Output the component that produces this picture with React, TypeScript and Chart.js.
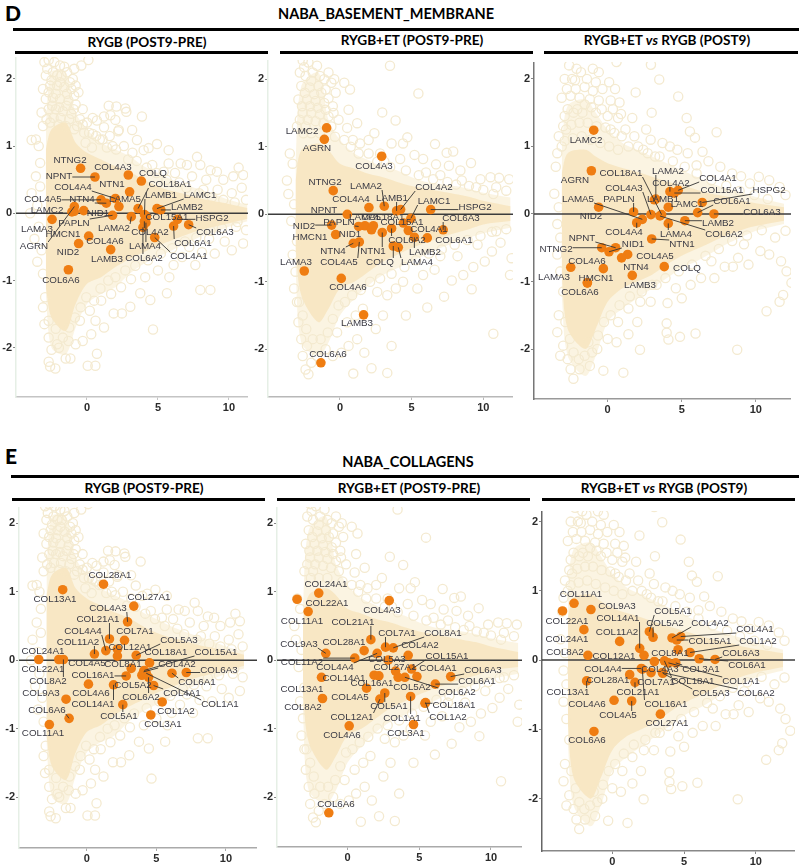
import React, { useEffect, useRef } from "react";
import { Chart, registerables } from "chart.js";

Chart.register(...registerables);

const xTicks = [0, 5, 10];
const yTicks = [-2, -1, 0, 1, 2];

// ---- background proteins (mean abundance, log fold change)
const cloud1Rings = [[-3,2.25],[-2.7,2.28],[-2.3,2.25],[-1.9,2.2],[.1,2.28],[-.4,2.2],[-.9,2.15],[-2.9,2.05],[-2.4,2.1],[-1.8,2.05],[-1.4,2.1],[-1,2],[-3.1,1.85],[-2.6,1.9],[-2.1,1.9],[-1.6,1.88],[-1.1,1.85],[-.6,1.8],[-2.9,1.7],[-2.4,1.72],[-1.9,1.7],[-1.3,1.68],[-.8,1.62],[-.3,1.55],[-3.2,1.5],[-2.7,1.55],[-2.2,1.55],[-1.7,1.52],[-1.1,1.48],[-.5,1.4],[0,1.35],[.4,1.42],[.7,1.38],[1.2,1.28],[-3.1,1.3],[-.2,1.2],[.4,1.18],[.9,1.1],[1.6,1.15],[2.2,1.22],[-3.6,1.1],[-3.9,1.09],[-3.4,1],[1.53,1.6],[2.07,1.59],[2.7,1.56],[2.77,1.51],[3.87,1.44],[1.65,1.46],[2,1.39],[1.2,1.44],[2.24,1.24],[3.18,1.24],[3.52,1.09],[4.93,1.03],[3.99,.94],[4.34,.97],[5.75,.94],[7.75,.84],[5.75,.74],[6.6,.74],[7.04,.72],[7.98,.72],[10.68,.68],[8.7,.64],[9.15,.62],[11,.57],[10.3,.55],[9.6,.5],[8.4,.5],[7.4,.55],[6.2,.6],[5.4,.62],[4.6,.72],[3.2,.9],[2.6,1],[1.8,1],[10.9,.38],[10.2,.3],[9.2,.35],[8.2,.35],[11.2,.2],[-3.3,.75],[-3.6,.55],[-3.3,.4],[-3.9,.3],[-3.5,.12],[-4,0],[-3.4,-.2],[-3.7,-.38],[-3.2,-.55],[-3.5,-.72],[-3.1,-.9],[7.98,-1.14],[8.69,-1.14],[4.65,-1.73],[.7,-2.09],[.05,-2.27],[.59,-2.27],[-1.17,-2.16],[-1.5,-2.16],[-2.7,-2.21],[-2.6,-2.28],[-2.23,-2.31],[-2.5,-2.03],[-1.98,-2],[3.05,-1.39],[2.46,-1.49],[1.88,-1.49],[5.63,-1.19],[6.1,-.77],[7.63,-.77],[4.46,-1.29],[3.75,-1.19],[1.2,-1.7],[.6,-1.6],[-.3,-1.9],[-.8,-1.95],[-1.3,-1.9],[-2.1,-1.95],[-2.7,-1.85],[-3,-1.65],[-3.1,-1.4],[-.5,-1.6],[.2,-1.45],[1,-1.3],[1.7,-1.2],[2.4,-1.1],[3.1,-.98],[4.1,-.95],[5,-.85],[5.8,-.95],[6.7,-.65],[8.1,-.58],[9,-.6],[10.2,-.55],[11,-.45],[9.7,-.42],[8.6,-.38],[11.2,-.25],[10.5,-.2],[7.2,-.5],[.3,-1.8],[-2.6,1.35],[-2,1.32],[-1.5,1.3],[-.9,1.25]];
const cloud1Column = [[-2.8,2.15],[-2.1,2.05],[-1.6,2.18],[-1.2,1.95],[-.8,1.9],[-2.5,1.98],[-1.9,1.95],[-1.4,1.78],[-2.2,1.78],[-2.7,1.8],[-.9,1.75],[-2.45,1.6],[-1.95,1.58],[-1.45,1.6],[-.95,1.55],[-2.85,1.4],[-2.35,1.42],[-1.85,1.42],[-1.25,1.4],[-.7,1.3],[-.3,1.32],[.15,1.2],[.65,1.15],[1.1,1.1],[-.1,1.05],[.35,.98],[1.4,.98],[2.05,.95],[2.9,.8],[3.5,.78],[4.2,.68],[4.9,.6],[5.6,.5],[6.5,.46],[7,.38],[7.9,.3],[8.8,.24],[9.6,.2],[10.4,.16],[-2.95,-1.25],[-2.7,-1.6],[-2.2,-1.72],[-1.7,-1.85],[-1.25,-1.7],[-.85,-1.55],[-.45,-1.4],[-.05,-1.25],[.5,-1.3],[.95,-1.12],[1.5,-1],[2,-.95],[2.7,-.85],[3.4,-.78],[4.3,-.7],[5.2,-.6],[6,-.52],[6.9,-.42],[7.7,-.36],[8.7,-.26],[9.5,-.22],[10.6,-.13]];
const cloud2Rings = [[3.49,2.2],[5.47,1.79],[2.95,1.51],[3.88,1.39],[4.7,1.14],[6.63,1.04],[3.6,1.05],[7.44,.91],[7.9,.93],[9.14,.76],[10.7,-1.77],[6.09,-1.38],[9.19,-1.11],[7.26,-1.22],[11.86,-.9],[11.97,-.65],[3.3,-2.35],[2.2,-2.28],[.93,-2.36],[1.7,-2.05],[-2.6,2.28],[-2.2,2.25],[-2.8,2.1],[-2.4,2.05],[-1.9,2.1],[-1.4,2.05],[-.8,2.1],[-.4,2],[-2.7,1.9],[-2.1,1.88],[-1.5,1.9],[-1,1.85],[-.3,1.8],[.3,1.95],[.7,1.85],[-2.9,1.7],[-2.3,1.7],[-1.7,1.68],[-1.1,1.65],[-.5,1.6],[-2.6,1.5],[-2,1.5],[-1.4,1.48],[-.8,1.45],[-.1,1.4],[.6,1.55],[1.2,1.35],[.5,1.28],[-3,1.3],[-2.4,1.3],[-3.5,.9],[-3.7,.5],[-3.3,.75],[-3.6,.3],[-3.2,.15],[1.4,1.05],[.9,1.1],[2,1.1],[2.4,1.2],[2.8,.9],[4.4,1.05],[5.2,.88],[5.8,.82],[6.7,.74],[7.6,.72],[8.4,.65],[4.2,.82],[3.1,.78],[6,.62],[7,.58],[8.5,.5],[9.8,.52],[10.5,.55],[11.1,.54],[11.8,.52],[10.9,.4],[11.6,.35],[9.5,.4],[-3.4,-.1],[-3,-.4],[-3.3,-.6],[-3.1,-.85],[-3.2,-1.1],[-3,-1.3],[-2.9,-1.6],[-2.7,-1.85],[-2.3,-1.95],[-2.6,-2.1],[-2.4,-2.3],[-2.2,-2.37],[-2,-2.2],[-1.6,-2.1],[-1,-2],[-.5,-2.1],[.1,-2.05],[.6,-1.95],[1.2,-1.85],[-.2,-1.75],[.5,-1.6],[1.1,-1.5],[1.6,-1.4],[2.5,-1.7],[3,-1.5],[3.6,-1.95],[4.6,-1.5],[2.6,-1.15],[3.3,-1.2],[3.9,-1.1],[4.4,-1],[5.4,-1.1],[5.8,-.9],[6.6,-.82],[7.8,-.98],[8.6,-.9],[9.3,-.78],[10.1,-.7],[10.6,-.55],[11.2,-.42],[8.2,-.62],[7,-.62],[9.6,-.45],[11.6,-.22],[10.9,-.25]];
const cloud2Column = [[-2.5,2.18],[-2,1.98],[-1.6,2.2],[-1.1,2],[-.6,1.95],[-2.45,1.8],[-1.8,1.78],[-1.3,1.8],[-.8,1.72],[-2.65,1.6],[-2.1,1.6],[-1.55,1.58],[-1,1.55],[-.45,1.5],[-2.8,1.4],[-2.25,1.4],[-1.7,1.38],[-1.15,1.35],[-.6,1.3],[-2.55,1.2],[-2,1.2],[-1.4,1.2],[-.35,1.15],[.3,1.1],[.75,1],[1.3,.9],[2,.9],[2.6,.78],[3.5,.7],[4.6,.65],[5.5,.58],[6.5,.52],[7.5,.48],[8.1,.44],[9,.42],[10,.36],[10.7,.3],[-2.85,-1.3],[-2.6,-1.5],[-2.35,-1.7],[-1.9,-1.85],[-1.35,-1.85],[-.85,-1.75],[-.5,-1.55],[-.1,-1.35],[.35,-1.3],[.85,-1.2],[1.45,-1.12],[2.1,-1],[2.8,-.95],[3.6,-.88],[4.5,-.78],[5.3,-.68],[6.2,-.58],[7.1,-.52],[8,-.45],[8.9,-.38],[9.8,-.32],[10.6,-.26]];
const cloud3Rings = [[2.92,2.21],[3.48,1.99],[1.89,1.8],[4.76,1.74],[2.97,1.5],[1.66,1.42],[5.33,1.42],[7.35,1.21],[5.55,1.22],[5.89,1.13],[10.72,-1.44],[11.84,-1.2],[12.4,-1.02],[12.07,-.85],[8.74,-2.01],[5.93,-1.77],[4.88,-1.82],[3.98,-1.62],[3.98,-1.76],[4.1,-1.86],[2.18,-2.01],[1.06,-2.35],[-.29,-2.32],[-2.31,-2.44],[4.04,-1.32],[7.9,-.78],[8.45,-.78],[11.6,-1.3],[-2.6,2.2],[-2.1,2.15],[-1,2.15],[-.6,2.1],[.6,2.25],[-2.9,2],[-2.2,1.98],[-1.4,2],[-.8,1.95],[.1,1.95],[.5,1.85],[-3.1,1.72],[-2.5,1.75],[-1.9,1.72],[-1.2,1.7],[-.6,1.68],[.2,1.68],[.8,1.65],[-2.9,1.45],[-2.3,1.5],[-1.7,1.5],[-.8,1.5],[0,1.45],[.7,1.42],[.9,1.48],[-3.3,1.15],[-2.8,1.25],[-3.4,.9],[-3.1,1],[-3.5,.7],[1.2,1.25],[.2,1.25],[1.8,1.15],[2.6,1.25],[2.9,1.1],[3.7,1.05],[4.2,1],[4.7,.95],[5.4,.9],[6.4,.92],[6.8,.78],[7.6,.7],[6,.72],[3.2,.85],[2.4,.95],[8.4,.6],[9,.56],[10.2,.55],[10.9,.5],[9.6,.45],[11.6,.4],[12,.28],[-3.6,.3],[-3.3,.1],[-3.4,-.15],[-3.2,-.35],[-3.4,-.6],[-3.2,-.85],[-3,-1.15],[-3.3,-1.5],[-3.4,-1.75],[-3,-1.95],[-3.2,-2.1],[-2.7,-2.15],[-2.5,-2.3],[-1.9,-2.3],[-1.2,-2.25],[-.7,-2],[-1.3,-1.9],[0,-1.85],[.6,-1.9],[.7,-1.6],[1.4,-1.78],[2,-1.6],[1.4,-1.4],[2.2,-1.3],[2.9,-1.3],[3.3,-1.05],[4.6,-1.1],[5,-1.25],[5.6,-1.05],[6.3,-.95],[7.2,-.95],[7,-.7],[8.8,-.65],[9.5,-.75],[10.3,-.55],[10.9,-.6],[11.7,-.7],[11.3,-.35],[12,-.25],[9.2,-.45]];
const cloud3Column = [[-2.4,2],[-1.8,2.1],[-1.55,1.88],[-1,1.82],[-.35,1.85],[-2.75,1.85],[-2.15,1.85],[-1.55,1.62],[-2.7,1.55],[-2.05,1.55],[-1.1,1.58],[-.4,1.55],[.35,1.55],[-3,1.3],[-2.45,1.32],[-1.9,1.35],[-1.35,1.35],[-.75,1.3],[-.15,1.28],[.45,1.2],[.95,1.15],[-2.9,1.08],[-2.35,1.12],[-1.75,1.15],[-1.15,1.1],[-.5,1.05],[.1,1],[.7,.95],[1.4,1],[2.05,1],[2.7,.9],[3.5,.85],[4.4,.78],[5.2,.7],[6,.6],[7,.5],[8,.42],[8.9,.34],[9.9,.28],[10.8,.22],[-2.85,-1.6],[-2.55,-1.85],[-2.3,-2.05],[-1.95,-2.15],[-1.55,-2.1],[-1.05,-2.05],[-.65,-1.8],[-.25,-1.6],[.2,-1.5],[.8,-1.35],[1.5,-1.22],[2.3,-1.15],[3,-1.05],[3.9,-.95],[4.8,-.85],[5.7,-.75],[6.6,-.62],[7.5,-.52],[8.4,-.4],[9.4,-.32],[10.4,-.24]];

const band1X = [-2.9,-2.5,-1.5,-.8,0,1,2,3,4,5,6,7,8,9,10,11.3];
const band1DenseUp = [.95,1.25,1.35,1.05,.9,.8,.7,.62,.5,.4,.33,.28,.22,.18,.14,.08];
const band1DenseLow = [-1.1,-1.55,-1.75,-1.35,-1.05,-.95,-.8,-.68,-.58,-.48,-.4,-.32,-.25,-.2,-.15,-.08];
const band1LightUp = [1.3,2.1,2.1,1.5,1.25,1.05,.95,.85,.7,.6,.5,.42,.35,.28,.2,.12];
const band1LightLow = [-1.2,-2,-2.1,-1.7,-1.35,-1.2,-1.1,-.9,-.75,-.65,-.55,-.45,-.35,-.28,-.2,-.12];
const band2X = [-3.1,-2.7,-1.5,-.8,0,1,2,3,4,5,6,7,8,9,10,11.9];
const band2DenseUp = [.5,.95,1.05,.95,.75,.68,.6,.55,.48,.42,.38,.34,.3,.26,.2,.12];
const band2DenseLow = [-.5,-1.2,-1.6,-1.4,-1.1,-1,-.85,-.7,-.6,-.5,-.42,-.35,-.28,-.22,-.15,-.1];
const band2LightUp = [.8,1.9,2.1,1.4,1.1,.9,.8,.7,.65,.55,.48,.45,.42,.38,.32,.25];
const band2LightLow = [-.8,-1.9,-2.1,-1.9,-1.5,-1.25,-1.05,-.9,-.8,-.7,-.6,-.5,-.42,-.35,-.28,-.2];
const band3DenseUp = [.6,.9,.95,.85,.75,.68,.62,.55,.48,.42,.36,.3,.26,.2,.16,.1];
const band3DenseLow = [-.9,-1.7,-2,-1.7,-1.3,-1.1,-1,-.9,-.75,-.62,-.52,-.42,-.32,-.24,-.18,-.1];
const band3LightUp = [1,1.6,1.7,1.5,1.25,1.05,.95,.85,.75,.65,.55,.45,.38,.32,.25,.15];
const band3LightLow = [-1.2,-2.1,-2.4,-2.1,-1.6,-1.4,-1.25,-1.1,-.95,-.8,-.7,-.58,-.45,-.35,-.25,-.15];

// ---- D, RYGB
const d1Genes = ["NTNG2","NPNT","COL4A3","COLQ","NTN1","COL4A4","COL4A5","NTN4","LAMA5","COL18A1","LAMB1","LAMC1","LAMB2","LAMC2","AGRN","NID1","LAMA3","PAPLN","LAMA2","COL15A1","COL4A2","LAMA4","COL6A2","HSPG2","COL6A1","COL6A3","COL4A1","HMCN1","COL4A6","NID2","LAMB3","COL6A6"];
const d1X = [-.45,.56,2.91,3.83,3,2,.99,1.36,2.25,3.6,4.05,4.93,5.2,-1.06,-.89,-.23,-2.46,1.8,3.12,4.18,4.04,4.15,3.94,6.38,6.1,7.16,4.77,-.9,.12,-.59,1.67,-1.31];
const d1Y = [.67,.54,.57,.48,.32,.22,.2,.15,.1,.07,-.02,.07,.05,.02,.1,.04,-.09,-.03,-.05,-.05,-.12,-.14,-.21,-.09,-.19,-.17,-.36,.03,-.34,-.45,-.54,-.84];
const d1LabelPos = [[70,160],[59,176],[113,167],[153,173],[112,184],[73,187],[43,199],[82,199],[125,199],[170,184],[161,195],[200,195],[187,207],[47,210],[34,246],[98,213],[37,229],[74,223],[114,228],[167,217],[150,232],[145,246],[144,258],[212,218],[193,243],[215,232],[189,256],[63,234],[105,241],[68,252],[107,259],[61,280]];
const d1Leaders = ["NPNT","COL4A4","COL4A5","NTN4","COL18A1","LAMB1","LAMC1","LAMB2","AGRN","PAPLN","LAMA2","HSPG2","COL6A1","COL6A3","COL4A1","COL4A2","LAMA4","COL6A2"];

// ---- D, RYGB+ET
const d2Genes = ["LAMC2","AGRN","COL4A3","NTNG2","COL4A4","LAMA2","NPNT","LAMB1","COL4A2","LAMC1","HSPG2","COL6A3","COL6A1","NID2","HMCN1","NTN4","COL4A5","NID1","PAPLN","LAMA5","COL18A1","NTN1","COL15A1","COL4A1","COL6A2","LAMB2","COLQ","LAMA4","LAMA3","COL4A6","LAMB3","COL6A6"];
const d2X = [-.93,-1.09,2.91,-.47,2.02,3.09,.51,3.95,4.23,4.95,6.33,7.2,6.09,-.58,-.3,.93,1.35,1.74,1.3,2.33,2.2,2.95,4.42,4.77,3.6,5.19,3.72,4.07,-2.49,.09,1.65,-1.33];
const d2Y = [1.28,1.11,.86,.35,.1,.12,0,.05,.07,-.06,.07,-.23,-.35,-.16,-.3,-.43,-.41,-.17,-.18,-.17,-.23,-.27,-.13,-.24,-.21,-.34,-.47,-.49,-.84,-.95,-1.49,-2.2];
const d2LabelPos = [[302,131],[317,148],[374,166],[325,182],[351,199],[366,186],[324,210],[392,198],[434,187],[434,201],[475,207],[461,218],[454,240],[304,226],[310,237],[333,251],[339,262],[350,234],[339,222],[365,217],[383,217],[373,251],[402,222],[429,229],[407,240],[425,252],[380,262],[417,262],[296,262],[348,287],[357,323],[328,354]];
const d2Leaders = ["NID2","PAPLN","LAMA2","LAMB1","COL4A2","LAMC1","HSPG2","COL6A3","NTN4","COL4A5","NTN1","COLQ","LAMA4","LAMB2","COL6A2"];

// ---- D, RYGB+ET vs RYGB
const d3Genes = ["LAMC2","AGRN","NID2","COL4A2","COL4A1","COL15A1","HSPG2","LAMB1","LAMA2","LAMC1","COL6A1","COL6A3","PAPLN","COL4A3","COL18A1","LAMA5","COL4A4","LAMA4","COL6A2","LAMB2","NTN1","NPNT","NTNG2","NID1","COL4A5","NTN4","COLQ","LAMA3","COL4A6","HMCN1","LAMB3","COL6A6"];
const d3X = [-.94,-1.1,-.61,4.2,4.76,4.5,6.38,3.15,3.25,4.09,6.07,7.17,1.75,2.92,3.64,2.34,1.96,4.09,3.53,5.21,2.97,.54,-.4,.09,1.35,.94,3.82,-2.49,-.29,-1.37,1.66,-1.37];
const d3Y = [1.24,.64,.1,.33,.35,.31,.17,.21,.22,.1,.02,0,.03,-.01,-.01,-.08,-.13,-.14,-.03,-.1,-.37,-.5,-.5,-.56,-.6,-.65,-.78,-.79,-.81,-1.02,-.91,-1.02];
const d3LabelPos = [[586,140],[575,180],[591,216],[671,183],[718,178],[722,190],[769,190],[663,199],[668,171],[687,204],[732,201],[762,212],[619,199],[624,188],[621,173],[578,199],[624,232],[676,234],[724,234],[718,223],[682,244],[582,238],[556,249],[633,244],[655,256],[636,267],[687,268],[554,277],[587,261],[596,278],[640,285],[580,292]];
const d3Leaders = ["LAMA2","COL18A1","COL4A1","COL4A2","COL4A3","COL15A1","HSPG2","LAMA5","PAPLN","COL6A1","COL6A3","LAMB2","LAMA4","COL6A2","COL4A4","NPNT","NID1","NTN1","NTNG2"];

// ---- E, RYGB
const e1Genes = ["COL28A1","COL13A1","COL27A1","COL4A3","COL21A1","COL7A1","COL12A1","COL4A4","COL11A2","COL5A3","COL4A5","COL24A1","COL22A1","COL8A2","COL18A1","COL8A1","COL4A2","COL16A1","COL5A2","COL6A2","COL15A1","COL1A1","COL6A1","COL6A3","COL4A1","COL4A6","COL14A1","COL1A2","COL5A1","COL3A1","COL9A3","COL6A6","COL11A1"];
const e1X = [1.2,-1.73,3.38,2.93,1.63,2.71,2.2,1.37,.55,3.55,2.2,-3.45,-2.01,-1.68,4.51,3.19,4.08,2.83,3.96,4.44,4.12,4.27,6.12,7.15,4.8,.12,1.92,5.42,2.59,4.6,-1.49,-1.27,-2.69];
const e1Y = [1.11,1.03,.79,.56,.31,.29,.16,.14,.09,.07,.06,.01,.01,.01,-.04,-.12,-.17,-.23,-.22,-.25,-.15,-.19,-.19,-.18,-.37,-.35,-.36,-.61,-.65,-.8,-.57,-.85,-.94];
const e1LabelPos = [[110,575],[55,599],[149,597],[108,608],[98,619],[135,631],[130,647],[83,631],[78,642],[179,640],[87,663],[43,651],[43,669],[48,681],[166,652],[123,664],[177,664],[93,675],[133,685],[141,697],[216,652],[220,704],[197,682],[219,670],[182,693],[91,693],[93,704],[176,711],[119,716],[163,724],[41,693],[47,710],[43,733]];
const e1Leaders = ["COL4A3","COL21A1","COL11A2","COL4A4","COL5A3","COL15A1","COL4A2","COL6A3","COL6A1","COL1A1","COL4A1","COL6A2","COL14A1","COL6A6","COL5A1","COL8A2","COL16A1"];

// ---- E, RYGB+ET
const e2Genes = ["COL24A1","COL22A1","COL11A1","COL4A3","COL21A1","COL7A1","COL8A1","COL4A2","COL9A3","COL28A1","COL4A4","COL11A2","COL5A3","COL15A1","COL4A1","COL6A3","COL6A1","COL27A1","COL6A2","COL5A2","COL14A1","COL16A1","COL13A1","COL4A5","COL5A1","COL12A1","COL1A1","COL18A1","COL1A2","COL8A2","COL4A6","COL3A1","COL6A6"];
const e2X = [-2,-3.51,-2.74,2.91,1.63,2.65,3.19,4.23,-1.51,1.16,2.07,.51,2.84,4.47,4.84,7.19,6.12,3.35,4,3.53,-1.81,1.86,2.19,1.33,2.6,2.26,4.4,5.4,5.44,-1.74,.12,4.6,-1.3];
const e2Y = [.98,.89,.71,.87,.3,.19,.18,.07,.1,.14,.1,.03,0,-.13,-.24,-.24,-.35,-.16,-.25,-.25,-.25,-.22,-.23,-.41,-.48,-.57,-.53,-.63,-.62,-.56,-.96,-.94,-2.23];
const e2LabelPos = [[326,584],[327,603],[302,621],[382,610],[353,622],[397,633],[443,633],[420,645],[299,644],[344,642],[335,667],[302,662],[387,659],[447,656],[438,668],[483,670],[477,681],[395,667],[457,692],[412,687],[344,678],[372,683],[302,689],[350,697],[389,706],[352,717],[402,718],[454,705],[448,717],[303,707],[342,735],[406,733],[336,804]];
const e2Leaders = ["COL21A1","COL7A1","COL8A1","COL9A3","COL11A2","COL4A4","COL15A1","COL6A3","COL6A1","COL6A2","COL18A1","COL5A1","COL1A2","COL12A1","COL1A1"];

// ---- E, RYGB+ET vs RYGB
const e3Genes = ["COL11A1","COL22A1","COL9A3","COL24A1","COL5A1","COL5A2","COL4A2","COL4A1","COL15A1","COL11A2","COL14A1","COL8A1","COL1A2","COL12A1","COL8A2","COL6A1","COL6A3","COL3A1","COL1A1","COL4A3","COL18A1","COL4A4","COL7A1","COL6A2","COL5A3","COL28A1","COL21A1","COL13A1","COL4A6","COL4A5","COL27A1","COL6A6","COL16A1"];
const e3X = [-2.67,-3.47,-1.49,-1.98,2.58,2.84,4.16,4.77,4.49,.51,1.91,4.58,5.42,2.21,-1.7,6.05,7.16,4.42,3.91,2.93,3.63,2.02,2.7,3.49,3.52,1.21,1.58,-1.79,.12,1.35,3.35,-1.28,2.09];
const e3Y = [.82,.71,.73,.44,.41,.33,.32,.34,.29,.27,.17,.15,.11,.07,.07,.02,.01,-.04,-.04,-.02,-.01,-.12,-.18,-.18,-.19,-.21,-.32,-.3,-.58,-.59,-.78,-1.03,-.13];
const e3LabelPos = [[581,594],[567,621],[617,606],[567,639],[673,611],[665,623],[710,623],[755,629],[710,641],[617,632],[618,618],[670,653],[758,641],[614,656],[565,652],[747,665],[741,653],[701,669],[741,681],[660,669],[693,681],[603,669],[656,682],[756,693],[711,693],[608,680],[638,692],[568,692],[587,704],[618,715],[667,723],[587,740],[666,704]];
const e3Leaders = ["COL14A1","COL5A1","COL5A2","COL4A2","COL4A1","COL15A1","COL1A2","COL8A1","COL6A3","COL6A1","COL4A4","COL3A1","COL1A1","COL18A1","COL5A3","COL6A2","COL16A1","COL21A1","COL13A1","COL4A5"];

const LABEL_FONT = '9.8px "Liberation Sans", Arial, sans-serif';

type Panel = {
  frame: number[]; xRange: number[]; yRange: number[];
  rings: number[][]; column: number[][]; bandX: number[]; denseUp: number[]; denseLow: number[]; lightUp: number[]; lightLow: number[];
  genes: string[]; xs: number[]; ys: number[]; labelPos: number[][]; leaders: string[];
  axisY: string; axisX: string;
};

const cloud1 = { rings: cloud1Rings, column: cloud1Column, bandX: band1X, denseUp: band1DenseUp, denseLow: band1DenseLow, lightUp: band1LightUp, lightLow: band1LightLow };
const cloud2 = { rings: cloud2Rings, column: cloud2Column, bandX: band2X, denseUp: band2DenseUp, denseLow: band2DenseLow, lightUp: band2LightUp, lightLow: band2LightLow };
const cloud3 = { rings: cloud3Rings, column: cloud3Column, bandX: band2X, denseUp: band3DenseUp, denseLow: band3DenseLow, lightUp: band3LightUp, lightLow: band3LightLow };

const panels: Panel[] = [
  { frame: [16,248,57,397], xRange: [-5,11.34], yRange: [-2.734,2.326], ...cloud1, genes: d1Genes, xs: d1X, ys: d1Y, labelPos: d1LabelPos, leaders: d1Leaders, axisY: "#e6efe6", axisX: "#c4c4c4" },
  { frame: [268,513,60,397], xRange: [-5.02,12.07], yRange: [-2.707,2.286], ...cloud2, genes: d2Genes, xs: d2X, ys: d2Y, labelPos: d2LabelPos, leaders: d2Leaders, axisY: "#e6efe6", axisX: "#b8b8b8" },
  { frame: [534,791,62,399], xRange: [-4.97,12.37], yRange: [-2.74,2.25], ...cloud3, genes: d3Genes, xs: d3X, ys: d3Y, labelPos: d3LabelPos, leaders: d3Leaders, axisY: "#777777", axisX: "#999999" },
  { frame: [19,257,507,848], xRange: [-4.87,12.23], yRange: [-2.744,2.238], ...cloud1, genes: e1Genes, xs: e1X, ys: e1Y, labelPos: e1LabelPos, leaders: e1Leaders, axisY: "#e6efe6", axisX: "#aaaaaa" },
  { frame: [277,522,507,847], xRange: [-4.91,12.16], yRange: [-2.73,2.238], ...cloud2, genes: e2Genes, xs: e2X, ys: e2Y, labelPos: e2LabelPos, leaders: e2Leaders, axisY: "#e6efe6", axisX: "#aaaaaa" },
  { frame: [542,795,511,851], xRange: [-4.9,12.73], yRange: [-2.756,2.153], ...cloud3, genes: e3Genes, xs: e3X, ys: e3Y, labelPos: e3LabelPos, leaders: e3Leaders, axisY: "#666666", axisX: "#888888" },
];

const PAD_LEFT = 26;
const PAD_BOTTOM = 24;

function MAPanel({ p }: { p: Panel }) {
  const ref = useRef<HTMLCanvasElement>(null);
  const [l, r, t, b] = p.frame;
  const canvasLeft = l - PAD_LEFT;
  const canvasTop = t;
  useEffect(() => {
    if (!ref.current) return;
    const pairs = (ys: number[]) => ys.map((y, i) => ({ x: p.bandX[i], y }));
    // pins the plot area to the frame measured in the picture
    const framePlugin = {
      id: "pinFrame",
      afterLayout(chart: any) {
        const W = r - l, H = b - t;
        Object.assign(chart.chartArea, { left: PAD_LEFT, top: 0, right: PAD_LEFT + W, bottom: H, width: W, height: H });
        Object.assign(chart.scales.x, { left: PAD_LEFT, right: PAD_LEFT + W, width: W, top: H, bottom: H + PAD_BOTTOM, height: PAD_BOTTOM });
        Object.assign(chart.scales.y, { left: 0, right: PAD_LEFT, width: PAD_LEFT, top: 0, bottom: H, height: H });
        chart.scales.x.configure();
        chart.scales.y.configure();
      },
    };
    const labelPlugin = {
      id: "geneLabels",
      afterDatasetsDraw(chart: any) {
        const ctx = chart.ctx;
        const sx = chart.scales.x, sy = chart.scales.y;
        ctx.save();
        ctx.font = LABEL_FONT;
        ctx.textAlign = "center";
        ctx.textBaseline = "middle";
        ctx.strokeStyle = "#333333";
        ctx.lineWidth = 0.9;
        p.genes.forEach((g, i) => {
          if (!p.leaders.includes(g)) return;
          const [px, py] = p.labelPos[i];
          const cx = px - canvasLeft, cy = py - canvasTop;
          const w = ctx.measureText(g).width / 2, h = 4;
          const ax = sx.getPixelForValue(p.xs[i]), ay = sy.getPixelForValue(p.ys[i]);
          const ex = Math.max(cx - w, Math.min(cx + w, ax));
          const ey = Math.max(cy - h, Math.min(cy + h, ay));
          ctx.beginPath();
          ctx.moveTo(ax, ay);
          ctx.lineTo(ex, ey);
          ctx.stroke();
        });
        ctx.fillStyle = "#3a3a44";
        p.genes.forEach((g, i) => {
          const [px, py] = p.labelPos[i];
          ctx.fillText(g, px - canvasLeft, py - canvasTop);
        });
        ctx.restore();
      },
    };
    const ringStyle = { pointRadius: 4.6, pointBackgroundColor: "rgba(0,0,0,0)", pointBorderColor: "#f4ead0", pointBorderWidth: 1.3 };
    const chart = new Chart(ref.current, {
      type: "scatter",
      data: {
        datasets: [
          { data: p.xs.map((x, i) => ({ x, y: p.ys[i] })), order: 1, pointRadius: 4.8, pointBackgroundColor: "#ef7d12", pointBorderWidth: 0 },
          { data: [{ x: p.xRange[0], y: 0 }, { x: p.xRange[1], y: 0 }], order: 2, showLine: true, borderColor: "#3c3c3c", borderWidth: 1.5, pointRadius: 0 },
          { data: pairs(p.denseUp), order: 3, showLine: true, borderWidth: 0, pointRadius: 0, tension: 0.3, fill: "+1", backgroundColor: "rgba(248,231,195,0.95)" },
          { data: pairs(p.denseLow), order: 3, showLine: true, borderWidth: 0, pointRadius: 0, tension: 0.3 },
          { data: p.rings.map(([x, y]) => ({ x, y })), order: 4, ...ringStyle },
          { data: p.column.map(([x, y]) => ({ x, y })), order: 4, ...ringStyle },
          { data: pairs(p.lightUp), order: 5, showLine: true, borderWidth: 0, pointRadius: 0, tension: 0.3, fill: "+1", backgroundColor: "rgba(250,240,216,0.75)" },
          { data: pairs(p.lightLow), order: 5, showLine: true, borderWidth: 0, pointRadius: 0, tension: 0.3 },
        ],
      } as any,
      options: {
        animation: false,
        responsive: false,
        layout: { padding: 0 },
        plugins: { legend: { display: false }, tooltip: { enabled: false } },
        scales: {
          x: {
            type: "linear", min: p.xRange[0], max: p.xRange[1],
            afterBuildTicks: (s: any) => { s.ticks = xTicks.map((value) => ({ value })); },
            afterFit: (s: any) => { s.height = PAD_BOTTOM; },
            grid: { display: true, drawOnChartArea: false, drawTicks: true, tickLength: 3, color: p.axisX },
            border: { color: p.axisX, width: 1.5 },
            ticks: { maxRotation: 0, padding: 1, color: "#2b2b2b", font: { family: '"Liberation Sans", Arial, sans-serif', weight: "bold", size: 11 } },
          },
          y: {
            type: "linear", min: p.yRange[0], max: p.yRange[1],
            afterBuildTicks: (s: any) => { s.ticks = yTicks.map((value) => ({ value })); },
            afterFit: (s: any) => { s.width = PAD_LEFT; },
            grid: { display: true, drawOnChartArea: false, drawTicks: true, tickLength: 3, color: "#888888" },
            border: { color: p.axisY, width: 1.5 },
            ticks: { padding: 1, color: "#2b2b2b", font: { family: '"Liberation Sans", Arial, sans-serif', weight: "bold", size: 11 } },
          },
        },
      } as any,
      plugins: [framePlugin, labelPlugin],
    });
    return () => chart.destroy();
  }, []);
  return (
    <canvas
      ref={ref}
      width={r - l + PAD_LEFT}
      height={b - t + PAD_BOTTOM}
      style={{ position: "absolute", left: canvasLeft, top: canvasTop, width: r - l + PAD_LEFT, height: b - t + PAD_BOTTOM }}
    />
  );
}

const bars = [
  [13, 27.5, 786, 3.5], [15, 50.5, 253, 3.5], [280, 50.5, 253, 3.5], [544, 50.5, 254, 3.5],
  [11, 474.5, 788, 3.5], [12, 497.5, 253, 3.5], [277, 497.5, 253, 3.5], [542, 497.5, 253, 3.5],
];

const titleFont = 'Lato, "Open Sans", sans-serif';

function Title({ cx, cy, size = 13.6, children }: any) {
  return (
    <div style={{ position: "absolute", left: cx - 150, width: 300, top: cy - 10, height: 20, lineHeight: "20px", textAlign: "center", fontFamily: titleFont, fontWeight: 700, fontSize: size, color: "#000", whiteSpace: "nowrap" }}>
      {children}
    </div>
  );
}

export default function App() {
  return (
    <div style={{ position: "absolute", left: 0, top: 0, width: 799, height: 865, overflow: "hidden", background: "#fff" }}>
      {panels.map((p, i) => <MAPanel key={i} p={p} />)}
      {bars.map(([x, y, w, h], i) => (
        <div key={i} style={{ position: "absolute", left: x, top: y, width: w, height: h, background: "#000" }} />
      ))}
      <div style={{ position: "absolute", left: 5, top: 2, fontFamily: titleFont, fontWeight: 900, fontSize: 21, lineHeight: "22px" }}>D</div>
      <div style={{ position: "absolute", left: 5, top: 445, fontFamily: titleFont, fontWeight: 900, fontSize: 21, lineHeight: "22px" }}>E</div>
      <Title cx={386} cy={14} size={14.5}>NABA_BASEMENT_MEMBRANE</Title>
      <Title cx={147} cy={42}>RYGB (POST9-PRE)</Title>
      <Title cx={412} cy={40}>RYGB+ET (POST9-PRE)</Title>
      <Title cx={667} cy={40}>RYGB+ET <i>vs</i> RYGB (POST9)</Title>
      <Title cx={408} cy={462} size={14.5}>NABA_COLLAGENS</Title>
      <Title cx={144} cy={488}>RYGB (POST9-PRE)</Title>
      <Title cx={409} cy={488}>RYGB+ET (POST9-PRE)</Title>
      <Title cx={664} cy={488}>RYGB+ET <i>vs</i> RYGB (POST9)</Title>
    </div>
  );
}
